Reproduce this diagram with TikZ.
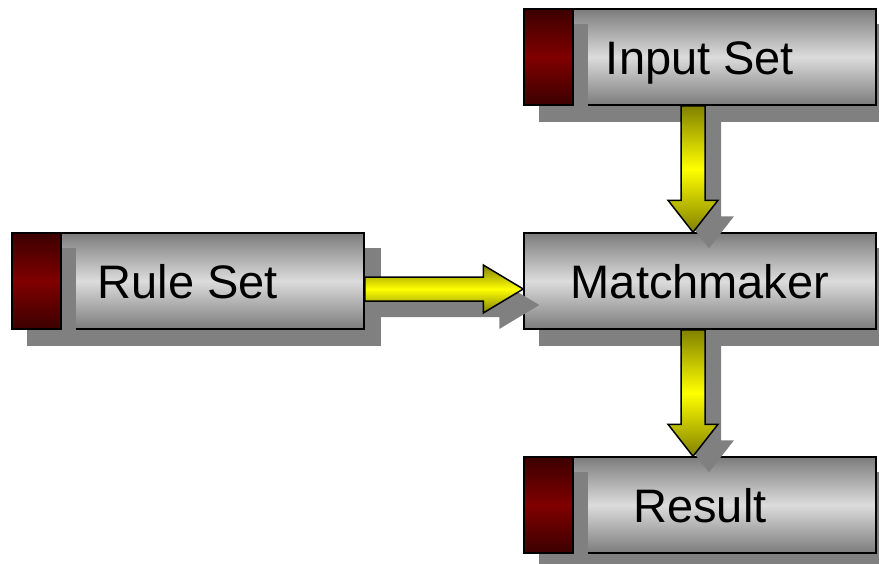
\documentclass[tikz,border=0pt]{standalone}
\usepackage{fontspec}
\setmainfont{Liberation Sans}
\usetikzlibrary{calc,backgrounds}

\definecolor{boxedge}{HTML}{7C7C7C}
\definecolor{boxmid}{HTML}{DCDCDC}
\definecolor{tabedge}{HTML}{3C0000}
\definecolor{tabmid}{HTML}{800000}
\definecolor{arrowedge}{HTML}{808000}
\definecolor{arrowmid}{HTML}{FFFF00}
\definecolor{shadowgray}{HTML}{808080}

\tikzset{
  stagebox/.style={draw=black, line width=1.5pt, inner sep=0pt,
    minimum width=352pt, minimum height=96pt,
    text height=35pt, text depth=0pt,
    top color=boxedge, bottom color=boxedge, middle color=boxmid,
    font=\fontsize{47}{56}\selectfont},
  tabbar/.style={draw=black, line width=1.5pt, inner sep=0pt,
    minimum width=49pt, minimum height=96pt, anchor=north west,
    top color=tabedge, bottom color=tabedge, middle color=tabmid},
  boxshadow/.style={fill=shadowgray},
  arrowbody/.style={draw=black, line width=1.5pt, line join=miter,
    top color=arrowedge, bottom color=arrowedge, middle color=arrowmid},
  arrowshadow/.style={fill=shadowgray,
    transform canvas={xshift=16pt, yshift=-16pt}},
}

% block arrow pointing down, from node anchor #2 to node anchor #3
\newcommand\downblock[3][]{%
  \path[#1] let \p1=(#2), \p2=(#3) in
    (\x1-12pt,\y1) -- (\x1+12pt,\y1) -- (\x1+12pt,\y2+32pt) --
    (\x1+25pt,\y2+32pt) -- (\x1,\y2) -- (\x1-25pt,\y2+32pt) --
    (\x1-12pt,\y2+32pt) -- cycle;}
% block arrow pointing right, from node anchor #2 to node anchor #3
\newcommand\rightblock[3][]{%
  \path[#1] let \p1=(#2), \p2=(#3) in
    (\x1,\y1+12pt) -- (\x1,\y1-12pt) -- (\x2-40pt,\y1-12pt) --
    (\x2-40pt,\y1-24pt) -- (\x2,\y1) -- (\x2-40pt,\y1+24pt) --
    (\x2-40pt,\y1+12pt) -- cycle;}

\begin{document}
\begin{tikzpicture}[x=1pt, y=-1pt]
  \useasboundingbox (0,0) rectangle (879,563);

  % stages
  \node[stagebox] (input)  at (700,57)  {Input Set};
  \node[stagebox] (match)  at (700,281) {Matchmaker};
  \node[stagebox] (rule)   at (188,281) {Rule Set};
  \node[stagebox] (result) at (700,505) {Result};

  % drop shadows of the stages
  \begin{scope}[on background layer]
    \foreach \n in {input, match, rule, result}
      \fill[boxshadow] ([shift={(16,16)}]\n.north west)
        rectangle ([shift={(16,16)}]\n.south east);
  \end{scope}

  % dark red tabs on the source and sink stages
  \foreach \n in {input, rule, result} {
    \fill[boxshadow] ([shift={(16,16)}]\n.north west)
      rectangle ([shift={(65,16)}]\n.south west);
    \node[tabbar] (\n tab) at (\n.north west) {};
  }

  % connectors
  \coordinate (inputout) at ($(input.south)+(-7,0)$);
  \coordinate (matchin)  at ($(match.north)+(-7,0)$);
  \coordinate (matchout) at ($(match.south)+(-7,0)$);
  \coordinate (resultin) at ($(result.north)+(-7,0)$);
  \coordinate (ruleout)  at ($(rule.east)+(0,8)$);
  \coordinate (matchleft) at ($(match.west)+(0,8)$);

  \downblock[arrowshadow]{inputout}{matchin}
  \downblock[arrowbody]{inputout}{matchin}
  \downblock[arrowshadow]{matchout}{resultin}
  \downblock[arrowbody]{matchout}{resultin}
  \rightblock[arrowshadow]{ruleout}{matchleft}
  \rightblock[arrowbody]{ruleout}{matchleft}
\end{tikzpicture}
\end{document}
